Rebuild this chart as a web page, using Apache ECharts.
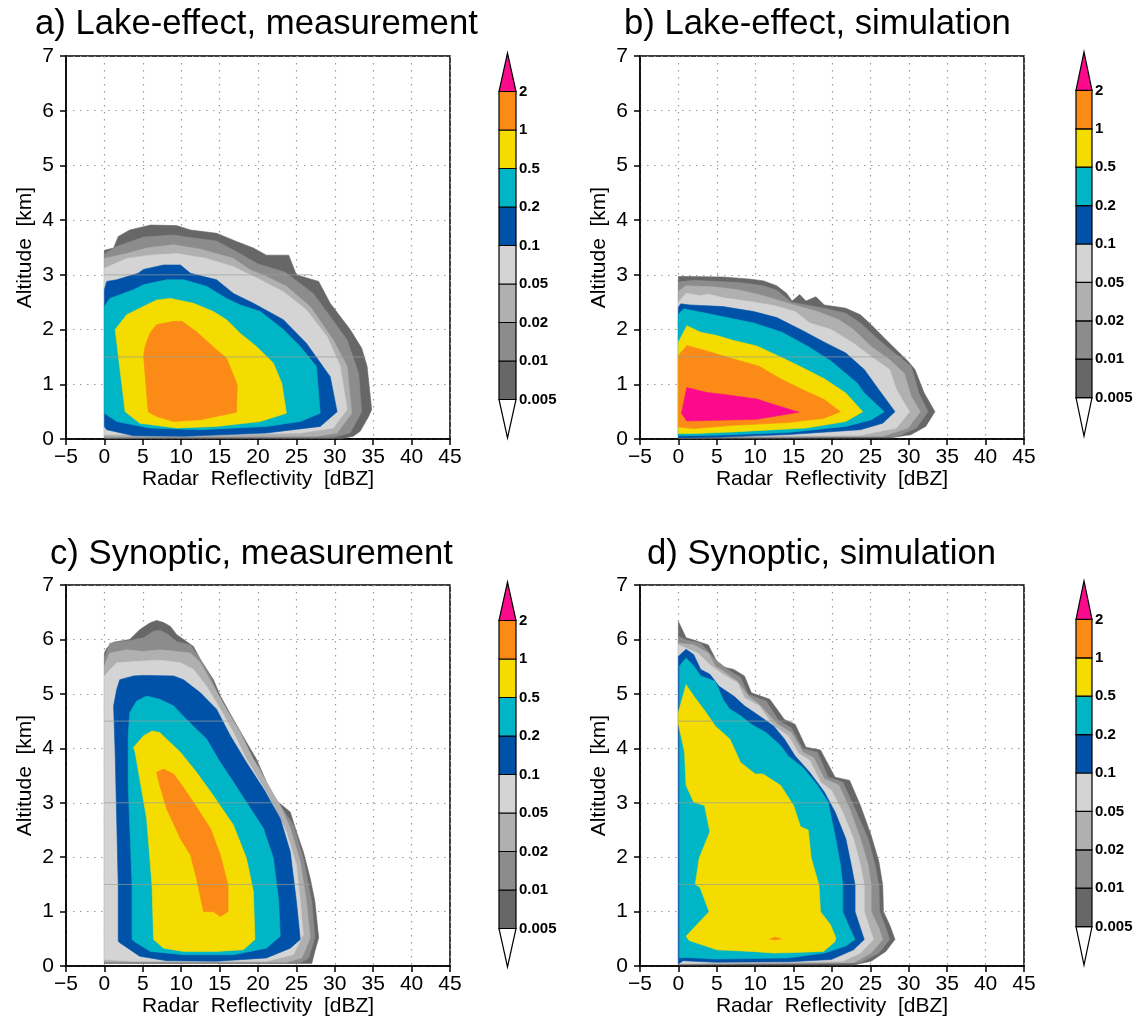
<!DOCTYPE html>
<html>
<head>
<meta charset="utf-8">
<script src="https://cdn.jsdelivr.net/npm/echarts@6/dist/echarts.min.js"></script>
<style>
  html, body { margin: 0; padding: 0; background: #fff; }
  #chart { width: 1139px; height: 1018px; }
</style>
</head>
<body>
<div id="chart"></div>
<script>
// Contour levels (frequency, %) and their fill colours
const levelLabels = ['0.005', '0.01', '0.02', '0.05', '0.1', '0.2', '0.5', '1', '2'];
const levelColors = ['#676767', '#8c8c8c', '#b0b0b0', '#d4d4d4', '#0052a8', '#00b5c6', '#f4dc00', '#fb8b16', '#fc0a8c'];
const xTicks = { min: -5, max: 45, step: 5 };   // dBZ
const yTicks = { min: 0, max: 7, step: 1 };     // km

// ---- a) Lake-effect, measurement : outer edge of each level, [dBZ, km]
const lakeMeasL0 = [[0,0.01],[0,3.45],[1.2,3.49],[1.8,3.7],[3.3,3.82],[6,3.91],[9.4,3.9],[11.2,3.82],[14.6,3.76],[17.2,3.61],[19.4,3.49],[21.1,3.36],[24,3.36],[25,3.0],[27.9,2.88],[29.4,2.48],[32,2.0],[33.5,1.66],[34.2,1.33],[34.8,0.54],[34.4,0.41],[33.3,0.14],[32.4,0.05],[31,0.01]];
const lakeMeasL1 = [[0,0.02],[0,3.38],[1.6,3.52],[5.1,3.69],[9,3.73],[10.7,3.69],[14.6,3.62],[17.5,3.4],[20,3.2],[23.5,3.05],[27.2,2.66],[29.4,2.24],[31.6,1.81],[33.1,1.2],[33.5,0.5],[32,0.11],[29.8,0.03]];
const lakeMeasL2 = [[0,0.04],[0,3.3],[2.9,3.39],[5.5,3.49],[9,3.55],[12.5,3.47],[16.8,3.3],[19,3.09],[21.1,2.97],[23.7,2.79],[26.8,2.42],[29.8,1.81],[31.6,1.33],[32.2,0.47],[30.3,0.11],[27.6,0.05]];
const lakeMeasL3 = [[0,0.08],[0,3.12],[2.9,3.3],[6,3.36],[9.4,3.39],[13.3,3.3],[16.8,3.15],[20.3,2.91],[23.3,2.69],[26.3,2.36],[29,1.87],[30.7,1.33],[31.6,0.54],[29.8,0.2],[25.5,0.11],[12.5,0.08]];
const lakeMeasL4 = [[0,0.23],[0,2.73],[0.3,2.88],[1.6,2.91],[4.4,3.03],[5.1,3.1],[7.7,3.18],[9.9,3.18],[11.2,3.03],[14.6,2.91],[16.8,2.66],[19.4,2.48],[23.3,2.18],[26.3,1.75],[29.4,1.14],[30.3,0.5],[28.1,0.23],[21.1,0.11],[10.3,0.05],[3.8,0.06],[0.3,0.17]];
const lakeMeasL5 = [[0,0.47],[0,2.42],[0.7,2.57],[3.8,2.73],[5.1,2.82],[8.1,2.91],[10.3,2.91],[13.3,2.79],[15.9,2.57],[17.7,2.45],[20.3,2.33],[23.3,2.0],[25.5,1.69],[27.6,1.33],[28.1,0.47],[25.5,0.32],[21.1,0.23],[12.5,0.17],[5.9,0.2],[1.6,0.32]];
const lakeMeasL6 = [[1.4,2.0],[2.7,0.5],[4.6,0.29],[9.4,0.2],[14.6,0.23],[20.3,0.32],[23.7,0.47],[23.1,1.02],[22,1.39],[19.8,1.69],[17.7,1.93],[15.9,2.18],[14.2,2.33],[11.6,2.48],[8.6,2.57],[6.8,2.54],[4.6,2.39],[2.9,2.27]];
const lakeMeasL7 = [[5.1,1.51],[5.7,0.5],[6.8,0.41],[9,0.32],[12.5,0.35],[17.2,0.49],[17.3,0.99],[15.9,1.48],[14.6,1.63],[12,1.96],[10.1,2.15],[9,2.15],[6.8,2.09],[5.9,1.93],[5.3,1.69]];
const lakeMeasRows = [[1.5, 34.0], [3.0, 27.0]];   // thin row lines: [km, dBZ end]

// ---- b) Lake-effect, simulation
const lakeSimL0 = [[0,0.01],[0,2.97],[1,2.97],[5.8,2.96],[9.5,2.92],[11.1,2.89],[12.8,2.8],[14.1,2.66],[14.8,2.52],[15.8,2.64],[16.6,2.52],[17.9,2.6],[19,2.45],[21.8,2.39],[23.7,2.27],[25.1,2.09],[27.5,1.75],[29.9,1.42],[30.8,1.27],[32,0.84],[33.4,0.5],[32.2,0.23],[30.3,0.08],[27.5,0.02]];
const lakeSimL1 = [[0,0.02],[0,2.87],[2,2.9],[8,2.86],[11,2.8],[12.8,2.72],[14.7,2.5],[19,2.39],[21.8,2.3],[23.7,2.12],[26.1,1.81],[28.4,1.54],[30.3,1.33],[31.3,0.84],[32.5,0.5],[31,0.2],[28.4,0.04]];
const lakeSimL2 = [[0,0.03],[0,2.7],[1,2.8],[4.8,2.78],[8.1,2.72],[11,2.62],[14.3,2.48],[18.1,2.33],[20.9,2.18],[22.8,2.0],[25.1,1.69],[27.5,1.45],[29.4,1.2],[30.3,0.78],[31.5,0.5],[29.9,0.2],[26.6,0.05]];
const lakeSimL3 = [[0,0.04],[0,2.5],[1,2.66],[2.9,2.62],[3.9,2.65],[5.8,2.58],[9.5,2.51],[12.4,2.44],[15.2,2.33],[17.1,2.12],[19.9,2.0],[22.8,1.75],[25.1,1.51],[27.5,1.27],[28.4,0.9],[30.1,0.5],[28.4,0.2],[23.7,0.07]];
const lakeSimL4 = [[0,0.02],[0,2.41],[0.3,2.47],[1.5,2.45],[5.8,2.42],[9.8,2.33],[12.8,2.22],[16.2,1.98],[19,1.77],[21.8,1.57],[24.2,1.27],[26.1,0.9],[28.2,0.5],[26.6,0.29],[23.7,0.17],[14.3,0.08],[5,0.03]];
const lakeSimL5 = [[0,0.06],[0,2.28],[0.7,2.38],[4.6,2.27],[9.8,2.12],[13.5,1.95],[17,1.68],[19.9,1.42],[23.3,1.02],[24.2,0.84],[26.8,0.5],[25.1,0.35],[21.8,0.23],[14.3,0.12],[4.8,0.07]];
const lakeSimL6 = [[0,0.1],[0,1.77],[1.1,2.07],[2.9,1.95],[5,1.89],[7.2,1.8],[10.2,1.7],[13.3,1.5],[16.2,1.3],[19,1.1],[21.8,0.84],[24,0.5],[21.8,0.32],[16.6,0.2],[7.2,0.13],[2,0.1]];
const lakeSimL7 = [[0,0.22],[0,1.53],[1.1,1.71],[3.9,1.6],[7.2,1.46],[10.5,1.33],[13.3,1.1],[16.2,0.9],[19,0.72],[21.1,0.5],[19,0.38],[14.3,0.3],[7.2,0.25],[2,0.19]];
const lakeSimL8 = [[1.1,0.94],[3.7,0.85],[6.7,0.8],[10.2,0.73],[12.4,0.63],[15.7,0.49],[10.2,0.36],[1.1,0.33],[0.4,0.47]];
const lakeSimRows = [[1.5, 29.6]];

// ---- c) Synoptic, measurement
const synMeasL0 = [[0,0.05],[0,5.75],[0.3,5.84],[1.2,5.95],[3.3,6.0],[4.6,6.18],[5.9,6.3],[6.8,6.35],[7.7,6.31],[8.6,6.24],[9.4,6.09],[10.7,5.96],[11.6,5.87],[12.5,5.63],[14.2,5.26],[15.1,4.96],[16.8,4.53],[18.5,4.11],[19.8,3.8],[21.1,3.38],[22.4,3.04],[24.2,2.83],[25,2.47],[25.9,2.1],[26.8,1.61],[27.4,1.19],[27.9,0.52],[27.4,0.27],[27,0.05]];
const synMeasL1 = [[0,0.06],[0,5.66],[0.7,5.93],[3.3,5.98],[5.1,6.03],[6.4,6.15],[7.2,6.17],[8.3,6.09],[9.4,5.96],[11.2,5.9],[12.5,5.63],[13.8,5.33],[15.1,4.9],[16.8,4.47],[18.5,3.99],[20.3,3.62],[21.1,3.32],[22.9,2.95],[24.6,2.59],[25.9,1.98],[27,1.19],[27.4,0.52],[26.6,0.15],[25.5,0.06]];
const synMeasL2 = [[0,0.08],[0,5.51],[0.7,5.75],[2.9,5.81],[5.1,5.78],[7.2,5.81],[9.4,5.78],[11.2,5.75],[12.5,5.57],[14.2,5.14],[15.9,4.72],[17.7,4.29],[19.4,3.8],[21.1,3.38],[22.9,2.95],[24.2,2.53],[25.5,1.92],[26.3,1.19],[26.8,0.52],[25.7,0.15],[23.7,0.07]];
const synMeasL3 = [[0,0.12],[0,5.33],[1.6,5.57],[4.6,5.6],[7.2,5.62],[9.9,5.57],[11.6,5.45],[13.3,5.14],[15.1,4.72],[16.8,4.29],[18.5,3.8],[20.3,3.38],[22,2.95],[23.7,2.47],[25,1.86],[25.5,1.19],[25.9,0.58],[24.6,0.21],[21.1,0.09],[3.8,0.09]];
const synMeasL4 = [[1.8,0.46],[1.8,1.49],[1.4,3.93],[1.2,4.78],[1.6,5.08],[2,5.26],[3.8,5.33],[5.1,5.34],[9,5.33],[10.3,5.26],[12.5,5.02],[14.6,4.72],[16.4,4.23],[18.5,3.74],[20.7,3.26],[22.9,2.71],[24.2,2.1],[25,1.19],[25.5,0.49],[24.2,0.33],[21.1,0.15],[14.6,0.09],[8.1,0.1],[4.6,0.18],[2,0.43]];
const synMeasL5 = [[3.6,0.49],[3.6,1.49],[3.1,3.32],[3.1,4.23],[3.3,4.66],[4.2,4.87],[5.5,4.96],[7.2,4.9],[9,4.78],[10.7,4.53],[13.3,4.17],[15.1,3.74],[16.8,3.38],[18.5,3.01],[20.7,2.53],[22,1.98],[22.7,1.19],[22.9,0.55],[21.1,0.33],[16.8,0.21],[10.3,0.21],[6.0,0.27],[3.9,0.45]];
const synMeasL6 = [[6.4,0.49],[6.2,1.49],[5.5,2.71],[4,3.93],[3.8,4.02],[5.1,4.23],[6.2,4.32],[7.2,4.29],[9.9,3.93],[12,3.56],[14.2,3.13],[16.8,2.59],[18.5,1.98],[19.4,1.37],[19.6,0.49],[18.1,0.3],[14.6,0.27],[10.3,0.27],[7.7,0.33]];
const synMeasL7 = [[6.8,3.56],[7.7,3.62],[9,3.53],[10.1,3.32],[11.6,3.01],[13.8,2.53],[15.1,2.04],[16.1,1.49],[16.1,1.0],[15.1,0.91],[14.2,1.0],[12.9,1.0],[12,1.61],[11.2,2.04],[9.9,2.34],[8.1,2.89],[7.2,3.32]];
const synMeasRows = [[1.5, 26.9], [3.0, 22.5], [4.5, 16.8]];

// ---- d) Synoptic, simulation
const synSimL0 = [[0,0.02],[0,6.33],[1,6.03],[2,5.99],[3.9,5.9],[5.3,5.51],[7.2,5.45],[8.6,5.33],[9.5,5.02],[11.9,4.9],[13.8,4.53],[15.2,4.44],[16.6,4.02],[18.5,3.97],[20.4,3.47],[22.3,3.41],[23.7,2.95],[25.1,2.4],[26.1,1.92],[26.6,1.49],[26.7,1.0],[27.5,0.76],[28.2,0.49],[27,0.27],[25.1,0.09],[22.8,0.02]];
const synSimL1 = [[0,0.03],[0,6.06],[1,5.99],[2.9,5.93],[4.8,5.63],[6.7,5.42],[8.1,5.3],[9.1,4.99],[11.4,4.87],[13.1,4.5],[14.7,4.38],[16.2,3.99],[18.1,3.93],[19.5,3.47],[21.4,3.38],[22.8,2.95],[24.7,2.34],[25.6,1.86],[26.1,1.49],[26.2,1.0],[27,0.7],[27.5,0.49],[26.1,0.24],[23.7,0.06]];
const synSimL2 = [[0,0.04],[0,5.93],[2,5.9],[3.9,5.75],[4.8,5.51],[5.8,5.42],[7.7,5.23],[9.1,4.96],[10.5,4.81],[12.9,4.44],[14.7,4.29],[16.2,3.93],[17.6,3.83],[19,3.44],[20.9,3.32],[22.3,2.89],[23.7,2.34],[24.7,1.86],[25.1,1.49],[25.1,1.0],[26.1,0.7],[26.6,0.49],[25.1,0.24],[22.8,0.06]];
const synSimL3 = [[0,0.05],[0,5.9],[1,5.84],[2.5,5.75],[4.3,5.51],[5.8,5.36],[7.7,5.2],[8.6,4.93],[10.5,4.78],[12.4,4.41],[14.3,4.23],[15.7,3.9],[17.1,3.78],[18.5,3.38],[19.9,3.23],[21.4,2.83],[22.8,2.34],[23.7,1.86],[24.2,1.49],[24.2,1.0],[24.9,0.7],[25.4,0.49],[23.7,0.24],[21.4,0.09]];
const synSimL4 = [[0,0.04],[0,5.69],[1,5.82],[2,5.72],[2.9,5.45],[4.1,5.36],[5.3,5.14],[7.2,4.96],[8.6,4.78],[10.5,4.6],[12.4,4.41],[13.8,4.17],[15.2,3.86],[17.1,3.56],[19,3.2],[20.4,2.83],[21.8,2.34],[22.5,1.86],[23,1.49],[23,1.0],[23.7,0.7],[24.2,0.49],[22.8,0.3],[19.9,0.12],[14.3,0.08],[4.8,0.07],[0.6,0.1]];
const synSimL5 = [[0.15,0.15],[0.15,5.51],[1,5.66],[2,5.51],[2.9,5.33],[4.8,5.23],[5.8,4.9],[6.7,4.72],[8.1,4.6],[9.5,4.44],[11.4,4.29],[13.3,4.05],[14.3,3.86],[16.2,3.65],[18.1,3.32],[19.5,3.01],[20.4,2.4],[21.1,1.86],[21.4,1.49],[21.4,1.0],[22.3,0.7],[23,0.49],[21.8,0.37],[19,0.24],[14.3,0.15],[4.8,0.13],[1,0.16]];
const synSimL6 = [[1,5.17],[0,4.66],[0,4.45],[0.8,3.93],[1,3.32],[2,3.01],[3.4,2.95],[4.1,2.47],[2.7,1.98],[2.2,1.5],[2.8,1.45],[4.0,1.0],[2.8,0.82],[1,0.55],[1.4,0.47],[5,0.3],[9.5,0.27],[12.4,0.24],[15.2,0.25],[18.9,0.27],[20.4,0.45],[20.5,0.52],[19.8,0.76],[18.5,1.0],[18.3,1.49],[17.3,1.98],[16.9,2.5],[15.9,2.56],[15,2.95],[13.3,3.32],[11,3.53],[10,3.53],[8.1,3.74],[6.7,4.17],[4.8,4.41],[3.6,4.66],[2,4.96]];
const synSimL7 = [[11.9,0.5],[12.6,0.53],[13.4,0.5],[12.6,0.48]];
const synSimRows = [[1.5, 26.6], [3.0, 23.6], [4.5, 14.9]];

const FONT = "'Liberation Sans', Arial, Helvetica, sans-serif";

const panels = [
  { title: 'a) Lake-effect, measurement', titlePos: { left: 35, top: 7 },
    plot: { left: 66, top: 56, width: 384, height: 383 },
    bar: { left: 499, top: 53, width: 17, height: 385 },
    shapes: [lakeMeasL0, lakeMeasL1, lakeMeasL2, lakeMeasL3, lakeMeasL4, lakeMeasL5, lakeMeasL6, lakeMeasL7],
    rows: lakeMeasRows },
  { title: 'b) Lake-effect, simulation', titlePos: { left: 624, top: 7 },
    plot: { left: 640, top: 56, width: 384, height: 383 },
    bar: { left: 1076, top: 52, width: 16, height: 384 },
    shapes: [lakeSimL0, lakeSimL1, lakeSimL2, lakeSimL3, lakeSimL4, lakeSimL5, lakeSimL6, lakeSimL7, lakeSimL8],
    rows: lakeSimRows },
  { title: 'c) Synoptic, measurement', titlePos: { left: 50, top: 537 },
    plot: { left: 66, top: 585, width: 384, height: 383 },
    bar: { left: 499, top: 582, width: 17, height: 385 },
    shapes: [synMeasL0, synMeasL1, synMeasL2, synMeasL3, synMeasL4, synMeasL5, synMeasL6, synMeasL7],
    rows: synMeasRows },
  { title: 'd) Synoptic, simulation', titlePos: { left: 647, top: 537 },
    plot: { left: 640, top: 585, width: 384, height: 383 },
    bar: { left: 1076, top: 581, width: 16, height: 384 },
    shapes: [synSimL0, synSimL1, synSimL2, synSimL3, synSimL4, synSimL5, synSimL6, synSimL7],
    rows: synSimRows }
];

const grid = [], xAxis = [], yAxis = [], series = [], title = [];
const dotted = { show: true, lineStyle: { color: '#9a9a9a', width: 1.2, type: [1.5, 5.5] } };
const blackLine = { color: '#000', width: 1.5 };

panels.forEach((p, k) => {
  const gPlot = 2 * k, gBar = 2 * k + 1;
  title.push({ text: p.title, left: p.titlePos.left, top: p.titlePos.top, padding: 0,
    textStyle: { fontFamily: FONT, fontSize: 34.7, fontWeight: 'normal', color: '#000' } });

  grid.push({ ...p.plot, show: true, borderColor: '#000', borderWidth: 1.5, containLabel: false });
  grid.push({ ...p.bar, containLabel: false });

  xAxis.push({ gridIndex: gPlot, type: 'value', min: xTicks.min, max: xTicks.max, interval: xTicks.step,
    axisLine: { show: true, onZero: false, lineStyle: blackLine },
    axisTick: { show: true, length: 6, lineStyle: blackLine },
    axisLabel: { fontFamily: FONT, fontSize: 21, color: '#000', margin: 8,
      formatter: v => String(v).replace('-', '\u2212') },
    splitLine: dotted,
    name: 'Radar  Reflectivity  [dBZ]', nameLocation: 'middle', nameGap: 27,
    nameTextStyle: { fontFamily: FONT, fontSize: 21, color: '#000' } });
  yAxis.push({ gridIndex: gPlot, type: 'value', min: yTicks.min, max: yTicks.max, interval: yTicks.step,
    axisLine: { show: true, onZero: false, lineStyle: blackLine },
    axisTick: { show: true, length: 6, lineStyle: blackLine },
    axisLabel: { fontFamily: FONT, fontSize: 21, color: '#000', margin: 12 },
    splitLine: dotted,
    name: 'Altitude  [km]', nameLocation: 'middle', nameGap: 30, nameRotate: 90,
    nameTextStyle: { fontFamily: FONT, fontSize: 21, color: '#000' } });

  // colour key axes: y index 0..10, boundaries 1..9 carry the level labels
  xAxis.push({ gridIndex: gBar, type: 'value', min: 0, max: 1, show: false });
  yAxis.push({ gridIndex: gBar, type: 'value', min: 0, max: 10, interval: 1, position: 'right',
    axisLine: { show: false }, axisTick: { show: false }, splitLine: { show: false },
    axisLabel: { fontFamily: FONT, fontSize: 15, fontWeight: 'bold', color: '#000', margin: 3,
      formatter: v => (v >= 1 && v <= 9) ? levelLabels[v - 1] : '' } });

  // filled contour levels, drawn from the outermost (lowest) level inwards
  const shapes = p.shapes;
  series.push({
    type: 'custom', xAxisIndex: gPlot, yAxisIndex: gPlot, clip: true, silent: true, z: 3,
    data: shapes.map(s => s[0]),
    renderItem: (params, api) => {
      const pts = shapes[params.dataIndex].map(pt => api.coord(pt));
      const c = levelColors[params.dataIndex];
      return { type: 'polygon', shape: { points: pts },
        style: { fill: c, stroke: c, lineWidth: 0.6 } };
    }
  });

  // faint row lines across the filled area
  series.push({
    type: 'custom', xAxisIndex: gPlot, yAxisIndex: gPlot, clip: true, silent: true, z: 4,
    data: p.rows.map(r => [r[1], r[0]]),
    renderItem: (params, api) => {
      const y = api.value(1), xe = api.value(0);
      const s = api.coord([0, y]), e = api.coord([xe, y]);
      return { type: 'line', shape: { x1: s[0], y1: s[1], x2: e[0], y2: e[1] },
        style: { stroke: 'rgba(150,160,150,0.7)', lineWidth: 1 } };
    }
  });

  // colour key: open-ended triangles below/above, boxes between level boundaries
  series.push({
    type: 'custom', xAxisIndex: gBar, yAxisIndex: gBar, silent: true, z: 3,
    data: [0, 1, 2, 3, 4, 5, 6, 7, 8, 9].map(i => [0, i]),
    renderItem: (params, api) => {
      const i = params.dataIndex;
      const a = api.coord([0, i]), b = api.coord([1, i + 1]);
      const style = { stroke: '#000', lineWidth: 1.2 };
      if (i === 0) {
        return { type: 'polygon', shape: { points: [[a[0], b[1]], [b[0], b[1]], [(a[0] + b[0]) / 2, a[1]]] },
          style: { ...style, fill: '#fff' } };
      }
      if (i === 9) {
        return { type: 'polygon', shape: { points: [[a[0], a[1]], [b[0], a[1]], [(a[0] + b[0]) / 2, b[1]]] },
          style: { ...style, fill: levelColors[8] } };
      }
      return { type: 'rect', shape: { x: a[0], y: b[1], width: b[0] - a[0], height: a[1] - b[1] },
        style: { ...style, fill: levelColors[i - 1] } };
    }
  });
});

const chart = echarts.init(document.getElementById('chart'), null, { renderer: 'canvas' });
chart.setOption({ backgroundColor: '#fff', animation: false, title, grid, xAxis, yAxis, series });
</script>
</body>
</html>
